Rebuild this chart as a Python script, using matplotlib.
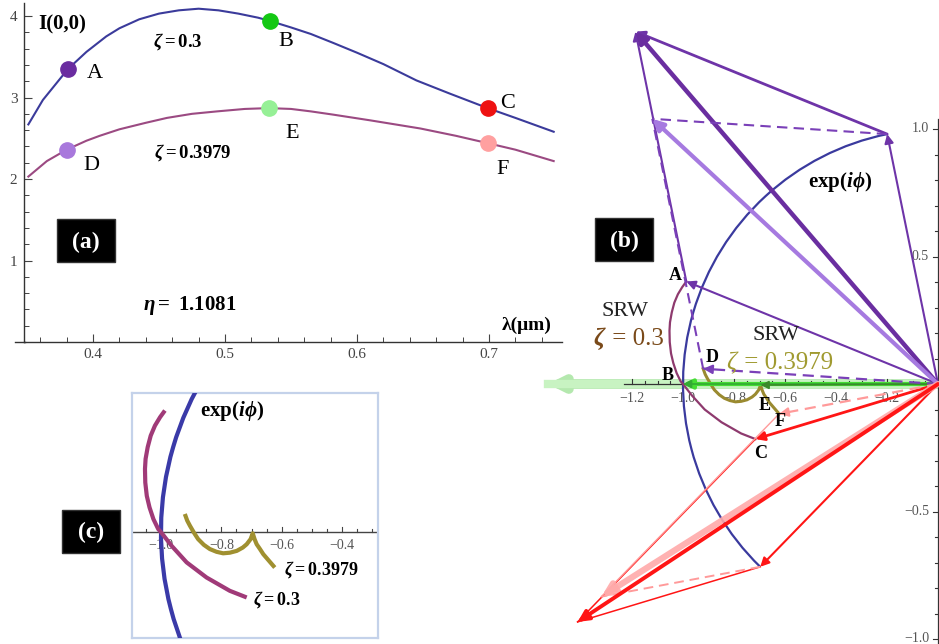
import matplotlib
matplotlib.use('Agg')
import matplotlib.pyplot as plt
import numpy as np
from matplotlib.patches import Rectangle, Arc
from matplotlib.lines import Line2D

W, H = 939, 644
plt.rcParams['font.family'] = ['Liberation Serif', 'DejaVu Serif']
plt.rcParams['mathtext.fontset'] = 'custom'
plt.rcParams['mathtext.rm'] = 'Liberation Serif:bold'
plt.rcParams['mathtext.it'] = 'Liberation Serif:italic:bold'
plt.rcParams['mathtext.bf'] = 'Liberation Serif:bold'

# ---------------- data: panel (a) ----------------
lam_z03 = [0.351, 0.362, 0.381, 0.395, 0.410, 0.420, 0.435, 0.450, 0.465, 0.480, 0.495,
           0.510, 0.525, 0.534, 0.550, 0.565, 0.582, 0.600, 0.620, 0.645, 0.670, 0.699,
           0.720, 0.749]
I_z03 = [2.67, 2.97, 3.35, 3.56, 3.75, 3.85, 3.96, 4.03, 4.07, 4.09, 4.07,
         4.03, 3.98, 3.94, 3.86, 3.78, 3.67, 3.55, 3.41, 3.21, 3.05, 2.87,
         2.75, 2.58]
lam_z04 = [0.351, 0.365, 0.380, 0.395, 0.405, 0.420, 0.440, 0.456, 0.475, 0.494, 0.515,
           0.533, 0.550, 0.565, 0.582, 0.610, 0.648, 0.675, 0.699, 0.720, 0.749]
I_z04 = [2.03, 2.22, 2.36, 2.47, 2.53, 2.61, 2.69, 2.75, 2.80, 2.83, 2.86,
         2.87, 2.86, 2.83, 2.79, 2.72, 2.62, 2.53, 2.44, 2.36, 2.22]
pt_names = ['A', 'B', 'C', 'D', 'E', 'F']
pt_lam = [0.381, 0.534, 0.699, 0.380, 0.533, 0.699]
pt_I = [3.35, 3.94, 2.87, 2.36, 2.87, 2.44]
pt_colors = ['#6a2ca0', '#14c814', '#ee1111', '#a878dc', '#96f096', '#ffa0a0']
xticks_a = [0.4, 0.5, 0.6, 0.7]
yticks_a = [1, 2, 3, 4]

# ---------------- data: panel (b)/(c) ----------------
srw03_x = [-0.987, -1.003, -1.020, -1.034, -1.044, -1.051, -1.053, -1.052, -1.047, -1.038,
           -1.025, -1.009, -1.000, -0.965, -0.915, -0.849, -0.772, -0.716]
srw03_y = [0.402, 0.380, 0.352, 0.319, 0.281, 0.242, 0.209, 0.164, 0.120, 0.082,
           0.043, 0.010, 0.000, -0.045, -0.100, -0.150, -0.194, -0.216]
srw04_x = [-0.921, -0.913, -0.904, -0.890, -0.877, -0.858, -0.838, -0.816, -0.794, -0.772,
           -0.749, -0.729, -0.716, -0.703, -0.696, -0.690, -0.683, -0.672, -0.661, -0.642, -0.623]
srw04_y = [0.060, 0.038, 0.021, -0.003, -0.023, -0.042, -0.056, -0.065, -0.070, -0.068,
           -0.062, -0.051, -0.040, -0.023, -0.004, -0.023, -0.040, -0.056, -0.073, -0.095, -0.117]
idx03 = [0, 12, 17]   # A, B, C on the zeta=0.3 curve
idx04 = [0, 14, 20]   # D, E, F on the zeta=0.3979 curve
phi_deg = [101.5, 180.0, 225.8]   # exp(i phi) at the wavelengths of A/D, B/E, C/F
xticks_b = [-1.2, -1.0, -0.8, -0.6, -0.4, -0.2]
yticks_b = [1.0, 0.5, -0.5, -1.0]
xticks_c = [-1.0, -0.8, -0.6, -0.4]

fig = plt.figure(figsize=(W / 100, H / 100), dpi=100)


def ftext(x, y, s, **kw):
    kw.setdefault('ha', 'center')
    kw.setdefault('va', 'center')
    return fig.text(x / W, 1 - y / H, s, **kw)


def label_box(cx, cy, s, w=58, h=43):
    fig.patches.append(Rectangle(((cx - w / 2) / W, 1 - (cy + h / 2) / H), w / W, h / H,
                                 transform=fig.transFigure, fc='black', ec='#333', lw=1, zorder=5))
    ftext(cx, cy + 1, s, color='white', fontsize=17, fontweight='bold', zorder=6)


# ---------------- panel (a) ----------------
ax = fig.add_axes([24.4 / W, (H - 342) / H, 537.2 / W, 339 / H])
ax.set_xlim(0.348, 0.755)
ax.set_ylim(0, 4.16)
ax.plot(lam_z03, I_z03, color='#3b3b9b', lw=1.5)
ax.plot(lam_z04, I_z04, color='#9b4a82', lw=1.5)
for l, i, c in zip(pt_lam, pt_I, pt_colors):
    ax.plot(l, i, 'o', ms=11, color=c, mec=c, zorder=4)
for s in ['top', 'right']:
    ax.spines[s].set_visible(False)
for s in ['left', 'bottom']:
    ax.spines[s].set_color('#333')
    ax.spines[s].set_linewidth(1.0)
ax.set_xticks(xticks_a)
ax.set_xticklabels([f'{v:.1f}' for v in xticks_a])
ax.set_xticks(np.arange(0.36, 0.751, 0.02), minor=True)
ax.set_yticks(yticks_a)
ax.set_yticklabels([str(v) for v in yticks_a])
ax.set_yticks(np.arange(0.2, 4.1, 0.2), minor=True)
ax.tick_params(direction='in', colors='#444', labelsize=11, length=6, width=0.8)
ax.tick_params(which='minor', direction='in', colors='#444', length=3.5, width=0.7)
ax.tick_params(axis='y', pad=5)
ax.tick_params(axis='x', pad=4)
ax.patch.set_visible(False)
fig.add_artist(Line2D([15 / W, 25 / W], [1 - 342 / H, 1 - 342 / H], color='#333', lw=1.0,
                      transform=fig.transFigure))

ftext(62, 24, 'I(0,0)', fontsize=15, fontweight='bold')
ftext(178, 42, r'$\zeta\mathrm{=0.3}$', fontsize=13.5)
ftext(193, 153, r'$\zeta\mathrm{=0.3979}$', fontsize=13.5)
ftext(190, 306, r'$\eta\mathrm{=\ 1.1081}$', fontsize=15)
ftext(527, 325, 'λ(μm)', fontsize=14, fontweight='bold')
for name, (x, y) in zip(pt_names, [(95, 74), (286, 42), (508, 104), (91, 166), (292, 133), (503, 170)]):
    ftext(x, y, name, fontsize=16)
label_box(86, 241, '(a)')

# ---------------- panel (b) ----------------
OX, OY, S = 938.0, 384.0, 255.0
L = 540.0
axb = fig.add_axes([L / W, 0, (W - L) / W, 1])
axb.set_xlim(-(OX - L) / S, (W - OX) / S)
axb.set_ylim(-(H - OY) / S, OY / S)
axb.axis('off')
XCLIP = -(OX - 548) / S

srwA, srwB, srwC = [np.array([srw03_x[i], srw03_y[i]]) for i in idx03]
srwD, srwE, srwF = [np.array([srw04_x[i], srw04_y[i]]) for i in idx04]
expA, expB, expC = [np.array([np.cos(np.radians(p)), np.sin(np.radians(p))]) for p in phi_deg]
O = np.array([0.0, 0.0])
sumA, sumD = srwA + expA, srwD + expA
sumB, sumE = srwB + expB, srwE + expB
sumC, sumF = srwC + expC, srwF + expC


def arrow(a, p0, p1, color, lw, ls='-', ms=13, z=4, alpha=1.0):
    p0 = np.asarray(p0, float)
    p1 = np.asarray(p1, float)
    if ls != '-':
        a.plot([p0[0], p1[0]], [p0[1], p1[1]], color=color, lw=lw, ls=ls, zorder=z, alpha=alpha)
        d = (p1 - p0) / np.hypot(*(p1 - p0)) * 0.04
        p0 = p1 - d
    a.annotate('', xy=tuple(p1), xytext=tuple(p0),
               arrowprops=dict(arrowstyle='-|>', color=color, lw=lw, shrinkA=0, shrinkB=0,
                               mutation_scale=ms, alpha=alpha), zorder=z)


def seg(a, p0, p1, color, lw, ls='-', z=4, alpha=1.0):
    a.plot([p0[0], p1[0]], [p0[1], p1[1]], color=color, lw=lw, ls=ls, zorder=z, alpha=alpha)


# green (B, E on the real axis)
clipB = np.array([max(sumB[0], XCLIP), 0.0])
arrow(axb, O, clipB, '#b4e8ae', 7, ms=18, z=1)
seg(axb, O, [max(sumE[0], XCLIP), 0], '#c8f3c2', 6, z=1)

# axes of panel (b)
axc_col = '#333'
axb.plot([-1.23, 0], [0, 0], color=axc_col, lw=0.9, zorder=2)
axb.plot([0, 0], [-1.03, 1.04], color=axc_col, lw=0.9, zorder=2)
for v in np.arange(-1.2, 0.001, 0.05):
    ln = 0.02 if abs(round(v / 0.2) * 0.2 - v) < 1e-6 else 0.012
    axb.plot([v, v], [0, ln], color=axc_col, lw=0.8, zorder=2)
for v in np.arange(-1.0, 1.001, 0.1):
    ln = 0.02 if abs(round(v / 0.5) * 0.5 - v) < 1e-6 else 0.012
    axb.plot([-ln, 0], [v, v], color=axc_col, lw=0.8, zorder=2)
for v in xticks_b:
    axb.text(v, -0.055, f'{v:.1f}'.replace('-', '−'), ha='center', va='center', fontsize=10, color='#555')
for v in yticks_b:
    axb.text(-0.035, v, f'{v:.1f}'.replace('-', '−'), ha='right', va='center', fontsize=10, color='#555')

axb.add_patch(Arc((0, 0), 2, 2, theta1=phi_deg[0], theta2=phi_deg[2], color='#3a3a9e', lw=1.6, zorder=3))
axb.plot(srw03_x, srw03_y, color='#8e3a6e', lw=1.6, zorder=3)
axb.plot(srw04_x, srw04_y, color='#9a8a30', lw=2.2, zorder=3)

arrow(axb, O, expB, '#44dd33', 3, ms=13, z=3)
arrow(axb, O, srwB, '#33aa33', 1.2, ms=12, z=3)
arrow(axb, O, srwE, '#3a8a2a', 1.2, ms=12, z=3)

# purple construction (A, D)
pc = '#6e34a8'
arrow(axb, O, srwA, pc, 1.5)
arrow(axb, O, expA, pc, 1.5)
arrow(axb, expA, sumA, pc, 2.0)
arrow(axb, srwA, sumA, pc, 1.5)
arrow(axb, O, sumA, '#6a2ea0', 3.2, ms=16)
arrow(axb, O, srwD, '#7a40b8', 1.6, ls=(0, (5, 3)))
seg(axb, srwD, sumD, '#7a40b8', 1.5, ls=(0, (5, 3)))
seg(axb, expA, sumD, '#7a40b8', 1.5, ls=(0, (5, 3)))
arrow(axb, O, sumD, '#a67ae0', 3.0, ms=16)

# red construction (C, F)
rc = '#ff1515'
arrow(axb, O, srwC, rc, 2.0)
arrow(axb, O, expC, rc, 1.5)
seg(axb, expC, sumC, rc, 1.1)
seg(axb, srwC, sumC, rc, 1.1)
arrow(axb, O, srwF, '#ff9a9a', 1.6, ls=(0, (5, 3)))
seg(axb, expC, sumF, '#ff9a9a', 1.4, ls=(0, (5, 3)))
seg(axb, srwF, sumF, '#ff9a9a', 1.0)
arrow(axb, O, sumF, '#ffaaaa', 4.5, ms=18, alpha=0.9)
arrow(axb, O, sumC, rc, 2.8, ms=16)

ftext(840, 182, r'$\mathrm{exp(}i\phi\mathrm{)}$', fontsize=15)
ftext(675, 276, 'A', fontsize=13, fontweight='bold')
ftext(668, 376, 'B', fontsize=13, fontweight='bold')
ftext(761, 454, 'C', fontsize=13, fontweight='bold')
ftext(712, 357, 'D', fontsize=13, fontweight='bold')
ftext(765, 405, 'E', fontsize=13, fontweight='bold')
ftext(780, 422, 'F', fontsize=13, fontweight='bold')
ftext(625, 312, 'SRW', fontsize=16, color='#222')
ftext(776, 336, 'SRW', fontsize=16, color='#222')
ftext(604, 339, 'ζ', fontsize=18, color='#7a4a1a', fontweight='bold', fontstyle='italic', ha='right')
ftext(606, 339, ' = 0.3', fontsize=18, color='#7a4a1a', ha='left')
ftext(736, 363, 'ζ', fontsize=18, color='#a09a30', fontstyle='italic', ha='right')
ftext(738, 363, ' = 0.3979', fontsize=18, color='#a09a30', ha='left')
label_box(624, 240, '(b)')

# ---------------- panel (c) ----------------
axc = fig.add_axes([132 / W, (H - 638) / H, 246 / W, 245 / H])
axc.set_xlim(-1.096, -0.281)
axc.set_ylim(-0.35, 0.46)
axc.set_xticks([])
axc.set_yticks([])
for s in axc.spines.values():
    s.set_color('#c4d2ea')
    s.set_linewidth(1.6)
axc.axhline(0, color='#444', lw=1.0, zorder=2)
for v in np.arange(-1.05, -0.29, 0.05):
    ln = 0.016 if abs(round(v / 0.2) * 0.2 - v) < 1e-6 else 0.01
    axc.plot([v, v], [0, ln], color='#444', lw=0.8, zorder=2)
for v in xticks_c:
    axc.text(v, -0.045, f'{v:.1f}'.replace('-', '−'), ha='center', va='center', fontsize=10, color='#555')
axc.add_patch(Arc((0, 0), 2, 2, theta1=phi_deg[0], theta2=phi_deg[2], color='#3a3aa8', lw=3, zorder=3))
axc.plot(srw03_x, srw03_y, color='#a03a78', lw=3, zorder=3, solid_capstyle='butt', solid_joinstyle='round')
axc.plot(srw04_x, srw04_y, color='#a09030', lw=3, zorder=3, solid_capstyle='butt', solid_joinstyle='round')
ftext(232, 411, r'$\mathrm{exp(}i\phi\mathrm{)}$', fontsize=15)
ftext(321, 570, r'$\zeta\mathrm{=0.3979}$', fontsize=13)
ftext(277, 600, r'$\zeta\mathrm{=0.3}$', fontsize=13)
label_box(91, 531, '(c)')

fig.savefig('out.png', dpi=100)
